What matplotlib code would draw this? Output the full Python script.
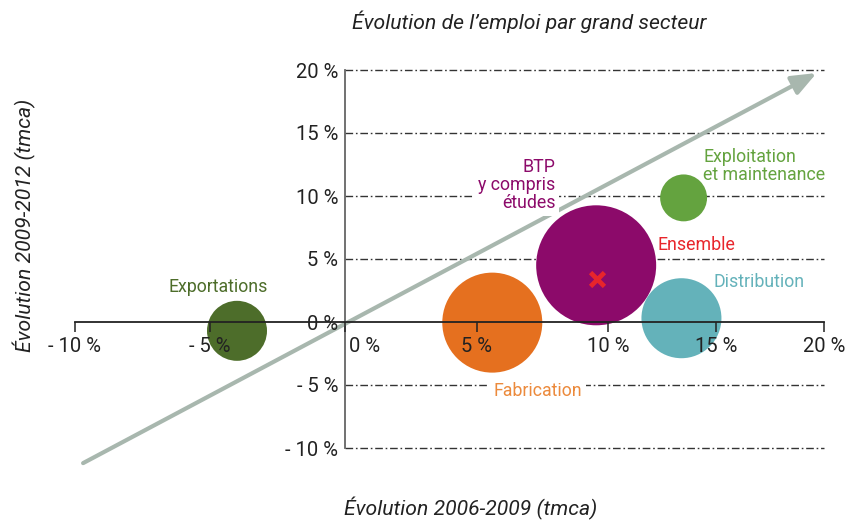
"""
Bubble chart: évolution de l'emploi par grand secteur.
Axes cross at the origin; the x scale of the original is slightly uneven,
so a piecewise-linear FuncScale reproduces it.
"""
import matplotlib
matplotlib.use("Agg")
import matplotlib.pyplot as plt
import numpy as np

plt.rcParams["font.family"] = ["Roboto", "DejaVu Sans"]

# --- data ---
secteurs = ["Exportations", "Fabrication", "BTP\ny compris\nétudes",
            "Distribution", "Exploitation\net maintenance"]
evol_2006_2009 = [-4.0, 5.6, 9.55, 13.4, 13.5]   # tmca, x
evol_2009_2012 = [-0.7, -0.05, 4.5, 0.3, 9.85]   # tmca, y
poids_relatif = [36, 100, 144, 64, 22]           # bubble area (Fabrication = 100)
ensemble_x, ensemble_y = 9.6, 3.4

x_ticks = [-10, -5, 0, 5, 10, 15, 20]
x_tick_labels = ["- 10 %", "- 5 %", "0 %", "5 %", "10 %", "15 %", "20 %"]
y_ticks = [-10, -5, 0, 5, 10, 15, 20]
y_tick_labels = ["- 10 %", "- 5 %", "0 %", "5 %", "10 %", "15 %", "20 %"]

couleurs = ["#4d6d2a", "#e5701f", "#8c0a6a", "#64b2ba", "#64a33f"]
couleurs_texte = ["#4d6d2a", "#ec8a3c", "#8c0a6a", "#64b2ba", "#64a33f"]
rouge = "#e8252b"

# uneven x scale of the original (data value -> pixel offset)
XB = np.array([-10.0, 0.0, 10.0, 20.0])
PB = np.array([0.0, 270.0, 533.0, 749.0])


def _pw(v, src, dst):
    v = np.asarray(v, dtype=float)
    out = np.interp(v, src, dst)
    lo = dst[0] + (v - src[0]) * (dst[1] - dst[0]) / (src[1] - src[0])
    hi = dst[-1] + (v - src[-1]) * (dst[-1] - dst[-2]) / (src[-1] - src[-2])
    return np.where(v < src[0], lo, np.where(v > src[-1], hi, out))


def fwd(v):
    return _pw(v, XB, PB)


def inv(v):
    return _pw(v, PB, XB)


W, H = 848, 521
fig = plt.figure(figsize=(W / 100, H / 100), dpi=100)
ax = fig.add_axes([75 / W, (H - 448) / H, (824 - 75) / W, (448 - 70) / H])
ax.set_xscale("function", functions=(fwd, inv))
ax.set_xlim(-10, 20)
ax.set_ylim(-10, 20)

# spines crossing at the origin
for side in ("top", "right"):
    ax.spines[side].set_visible(False)
ax.spines["bottom"].set_position(("data", 0))
ax.spines["left"].set_position(("data", 0))
ax.spines["bottom"].set_color("#222222")
ax.spines["left"].set_color("#666666")
ax.spines["bottom"].set_linewidth(1.3)
ax.spines["left"].set_linewidth(1.3)
ax.spines["bottom"].set_zorder(4)
ax.xaxis.set_zorder(4.5)
ax.yaxis.set_zorder(4.5)

ax.set_xticks(x_ticks, [lab if t != 0 else "" for t, lab in zip(x_ticks, x_tick_labels)])
ax.set_yticks(y_ticks, y_tick_labels)
ax.xaxis.set_minor_locator(plt.NullLocator())
ax.tick_params(axis="x", direction="out", length=7, width=1.1, color="#222222",
               pad=4, labelsize=14.5, labelcolor="#222222")
ax.tick_params(axis="y", length=0, pad=5, labelsize=14.5, labelcolor="#222222")
ax.annotate(x_tick_labels[x_ticks.index(0)], xy=(0, 0), xytext=(3, -11),
            textcoords="offset points", ha="left", va="top",
            fontsize=14.5, color="#222222", zorder=6)

# dash-dot reference lines
for y in y_ticks:
    if y == 0:
        continue
    ax.plot([0, 20], [y, y], color="#333333", lw=1.0,
            linestyle=(0, (5.5, 2, 1.2, 2)), zorder=1, clip_on=False)

# trend arrow
ax.annotate("", xy=(19.66, 19.76), xytext=(-9.7, -11.2),
            annotation_clip=False, zorder=3,
            arrowprops=dict(arrowstyle="-|>,head_length=0.75,head_width=0.3",
                            mutation_scale=20, lw=3, color="#a8b7ae",
                            shrinkA=0, shrinkB=0))

# bubbles
ax.scatter(evol_2006_2009, evol_2009_2012,
           s=[p * 51.84 for p in poids_relatif],
           c=couleurs, linewidths=0, zorder=2, clip_on=False)
ax.scatter([ensemble_x], [ensemble_y], marker="x", s=100, linewidths=3.4,
           color=rouge, zorder=5)

# labels
lab_kw = dict(fontsize=12.8, zorder=6)
ax.text(-4.7, 2.8, secteurs[0], color=couleurs_texte[0], ha="center", va="center", **lab_kw)
ax.text(5.63, -5.5, secteurs[1], color=couleurs_texte[1], ha="left", va="center",
        bbox=dict(facecolor="white", edgecolor="none", pad=3), **lab_kw)
ax.text(8.0, 10.9, secteurs[2], color=couleurs_texte[2], ha="right", va="center",
        multialignment="right", linespacing=1.0,
        bbox=dict(facecolor="white", edgecolor="none", pad=3), **lab_kw)
ax.text(14.9, 3.2, secteurs[3], color=couleurs_texte[3], ha="left", va="center", **lab_kw)
ax.text(14.4, 12.4, secteurs[4], color=couleurs_texte[4], ha="left", va="center",
        linespacing=1.0, **lab_kw)
ax.text(12.3, 6.1, "Ensemble", color=rouge, ha="left", va="center", **lab_kw)

# titles
titre_kw = dict(ha="center", va="center", style="italic", fontsize=15.2, color="#222222")
fig.text(529 / W, 1 - 22 / H, "Évolution de l’emploi par grand secteur", **titre_kw)
fig.text(471 / W, 1 - 508 / H, "Évolution 2006-2009 (tmca)", **titre_kw)
fig.text(24 / W, 1 - 225 / H, "Évolution 2009-2012 (tmca)", rotation=90, **titre_kw)

fig.savefig("out.png", dpi=100)
